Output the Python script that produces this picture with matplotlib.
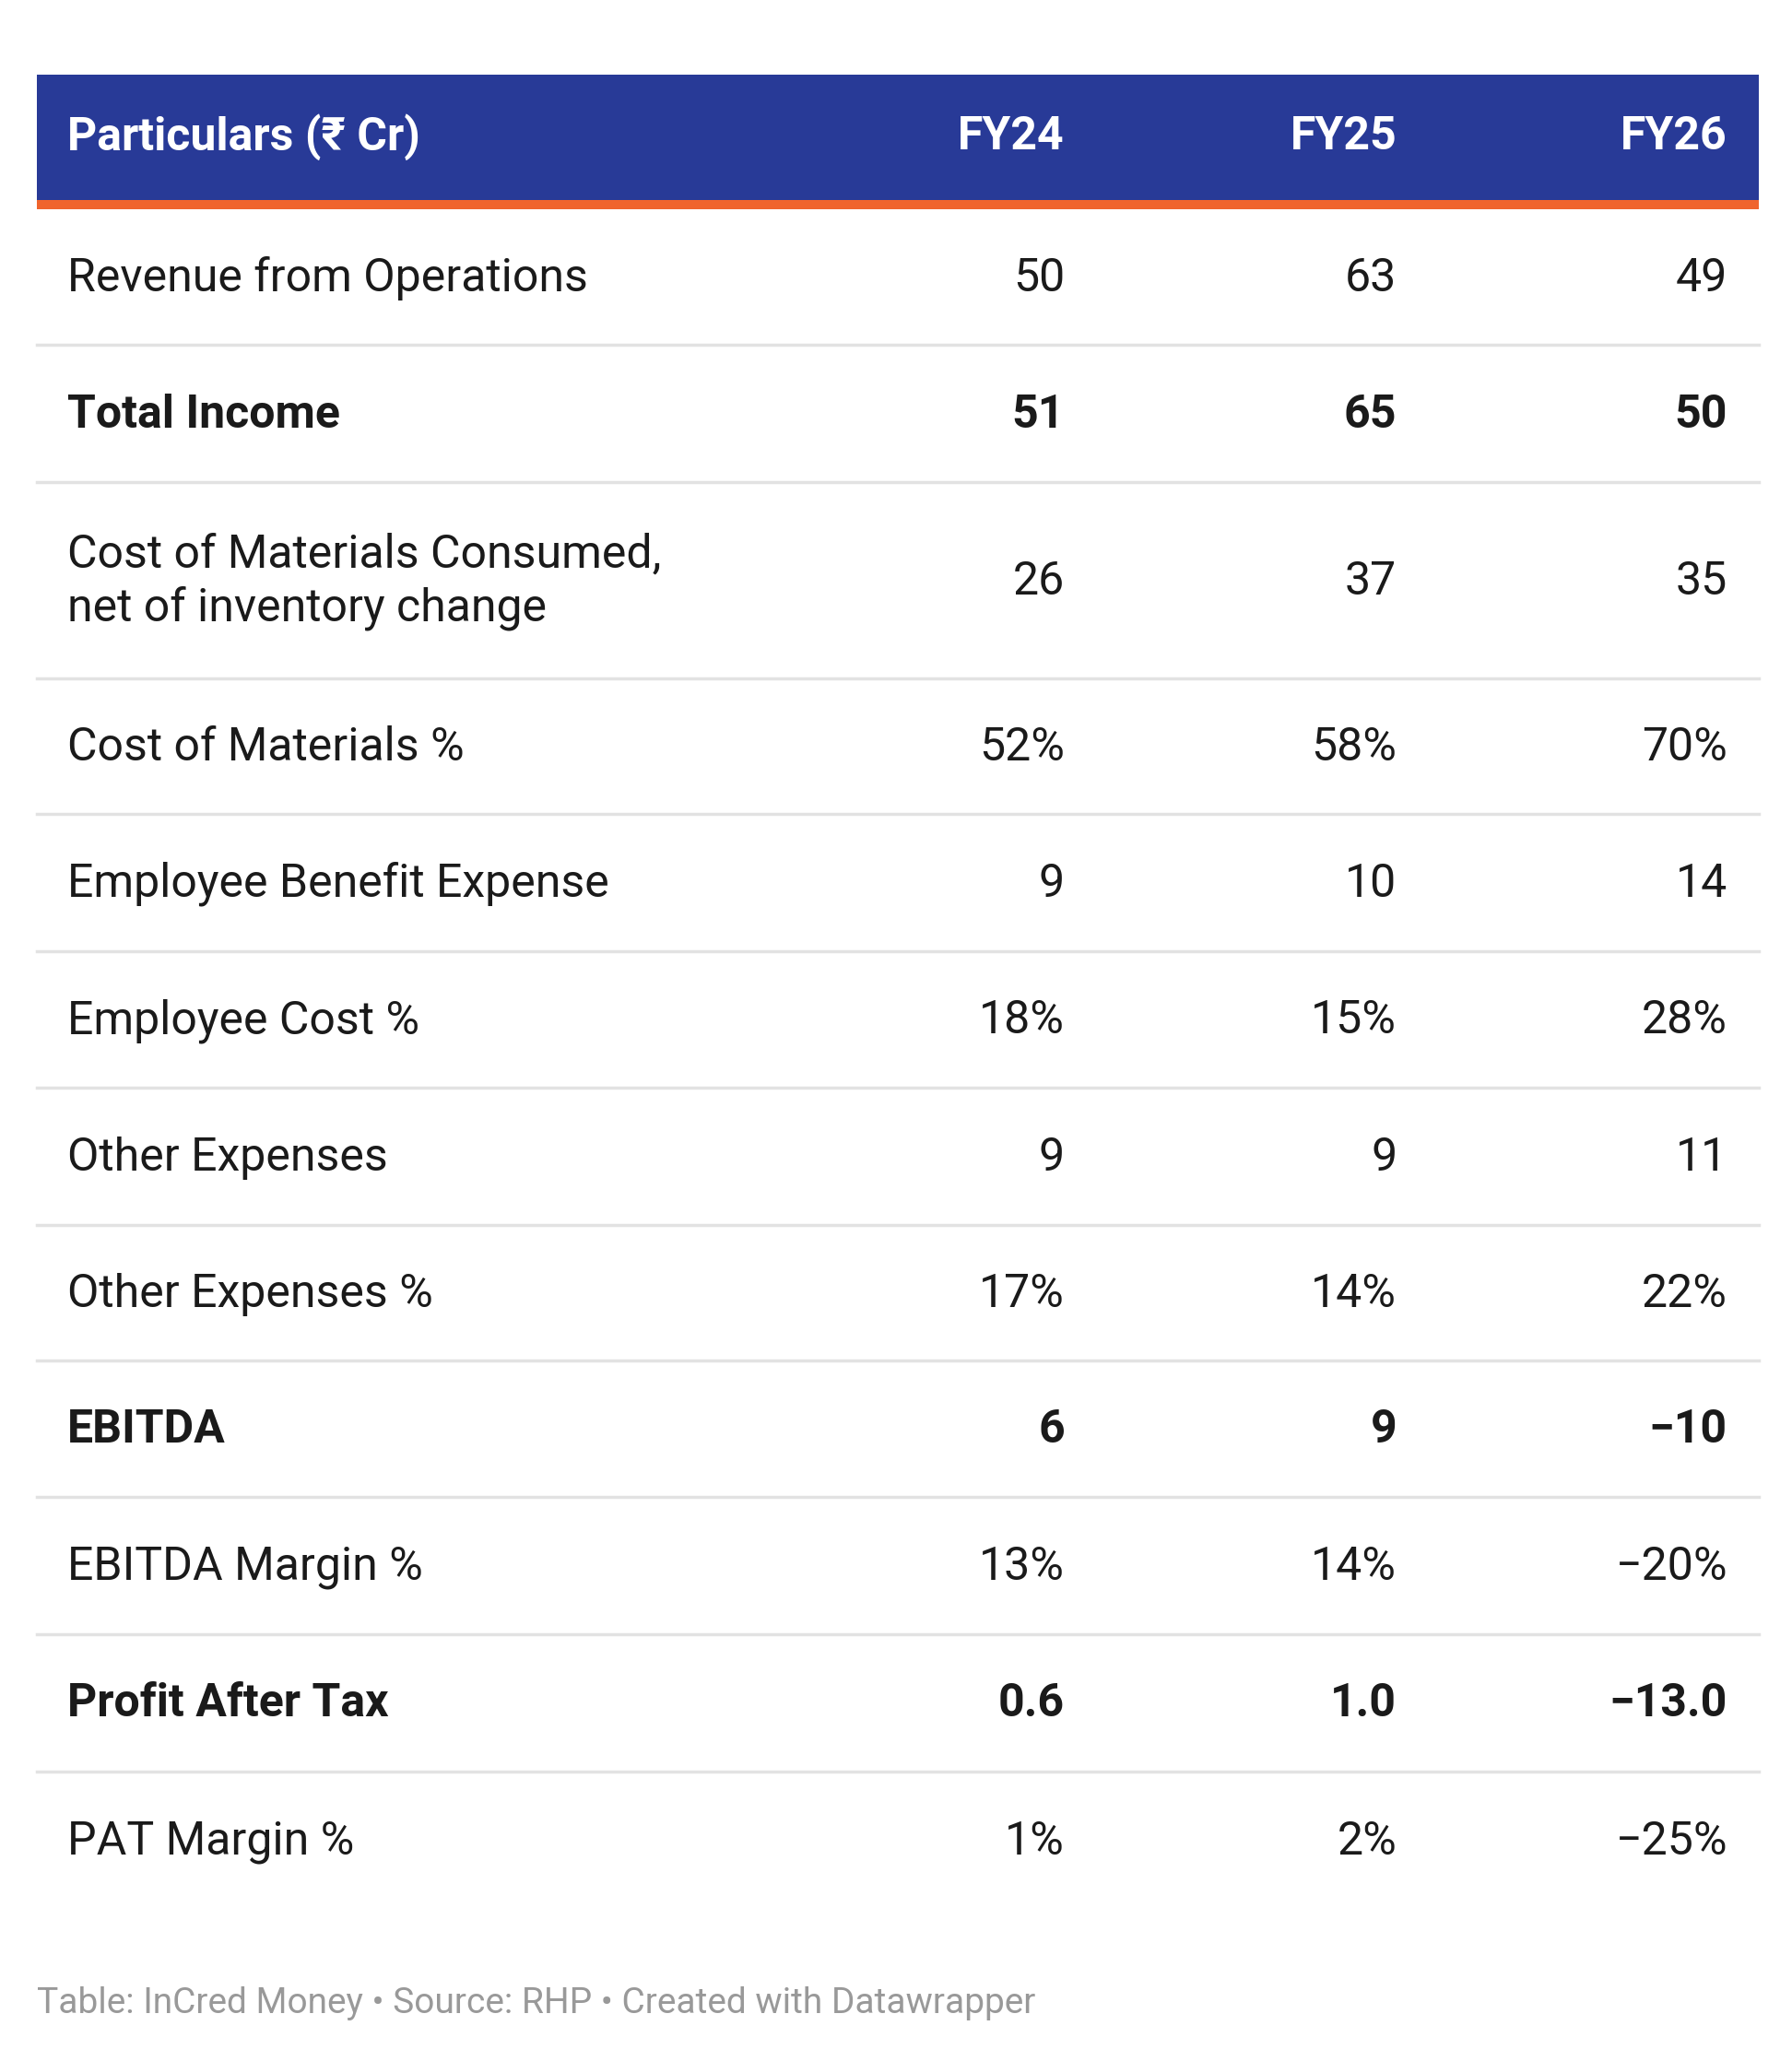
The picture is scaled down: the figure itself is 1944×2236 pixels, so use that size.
import matplotlib
matplotlib.use("Agg")
import matplotlib.pyplot as plt
from matplotlib.patches import Rectangle

header = ["Particulars (₹ Cr)", "FY24", "FY25", "FY26"]
particulars = ["Revenue from Operations", "Total Income",
               "Cost of Materials Consumed,\nnet of inventory change",
               "Cost of Materials %", "Employee Benefit Expense", "Employee Cost %",
               "Other Expenses", "Other Expenses %", "EBITDA", "EBITDA Margin %",
               "Profit After Tax", "PAT Margin %"]
fy24 = ["50", "51", "26", "52%", "9", "18%", "9", "17%", "6", "13%", "0.6", "1%"]
fy25 = ["63", "65", "37", "58%", "10", "15%", "9", "14%", "9", "14%", "1.0", "2%"]
fy26 = ["49", "50", "35", "70%", "14", "28%", "11", "22%", "−10", "−20%", "−13.0", "−25%"]
bold_rows = {1, 8, 10}
footer = "Table: InCred Money • Source: RHP • Created with Datawrapper"

fam = ["Roboto", "DejaVu Sans"]
fig = plt.figure(figsize=(19.44, 22.36), dpi=100)
ax = fig.add_axes([0, 0, 1, 1])
ax.set_xlim(0, 1360); ax.set_ylim(1565, 0); ax.axis("off")

L, R = 28, 1335
ax.add_patch(Rectangle((L, 57), R - L, 95, color="#283a97", lw=0))
ax.add_patch(Rectangle((L, 152), R - L, 7, color="#f0642d", lw=0))
colx = [51, 808, 1060, 1311]
fs = 36
for i, h in enumerate(header):
    ax.text(colx[i], 104, h, color="white", fontsize=fs, fontweight="bold", family=fam,
            ha="left" if i == 0 else "right", va="center")

bounds = [159, 262, 366, 515, 618, 722, 826, 930, 1033, 1137, 1241, 1345, 1450]
for r in range(len(particulars)):
    yc = (bounds[r] + bounds[r + 1]) / 2 + 1
    w = "bold" if r in bold_rows else "normal"
    ax.text(colx[0], yc, particulars[r], fontsize=fs, fontweight=w, family=fam,
            color="#1a1a1a", ha="left", va="center", linespacing=1.25)
    for j, vals in enumerate([fy24, fy25, fy26]):
        ax.text(colx[j + 1], yc, vals[r], fontsize=fs, fontweight=w, family=fam,
                color="#1a1a1a", ha="right", va="center")
    if r < len(particulars) - 1:
        ax.plot([L, R], [bounds[r + 1]] * 2, color="#e2e2e2", lw=2.5)

ax.text(L, 1521, footer, fontsize=28, family=fam, color="#999999", ha="left", va="center")
fig.savefig("out.png", dpi=100, facecolor="white")
